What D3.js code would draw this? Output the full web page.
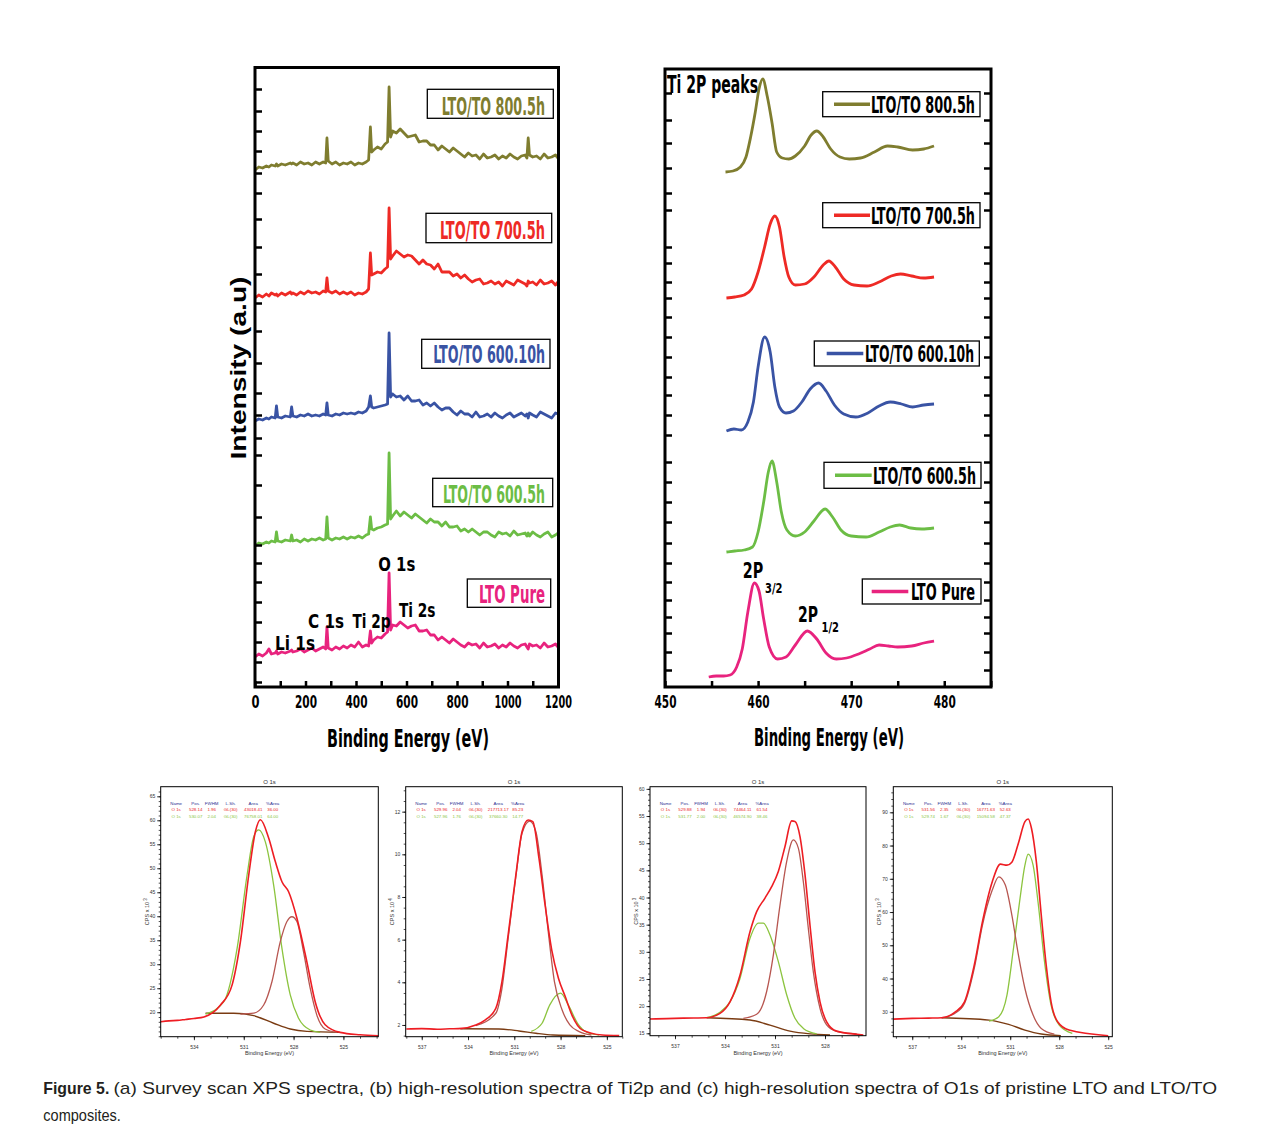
<!DOCTYPE html>
<html><head><meta charset="utf-8">
<script src="https://cdn.jsdelivr.net/npm/d3@7"></script>
<style>body{margin:0;background:#fff}</style>
</head><body>
<svg id="fig" width="1264" height="1134"></svg>
<script>
// ---------------- DATA ----------------
// (a) survey spectra: binding energy grid (eV) and stacked intensities (a.u.)
const surveyEV = [0,15,30,45,55,65,80,85,90,105,
  120,140,145,150,165,180,195,210,225,240,
  255,270,280,285,290,305,320,335,350,365,
  380,395,410,425,440,450,457,462,470,485,
  500,515,525,531,537,545,560,575,590,605,
  620,635,650,665,680,695,710,725,740,755,
  770,785,800,815,830,845,860,875,890,905,
  920,935,950,965,980,995,1010,1025,1040,1055,
  1070,1077,1082,1087,1100,1115,1130,1145,1160,1175,
  1190,1200];
const surveyPure = [30,33,31,34,38,33,34,36,33,35,
  34,36,37,35,36,38,35,37,39,36,
  38,40,38,60,39,37,40,38,41,39,
  42,40,45,40,42,41,56,44,47,50,
  49,53,55,114,57,62,61,65,62,59,
  61,62,56,56,57,52,52,47,50,47,
  44,48,45,42,40,44,42,43,39,44,
  40,41,43,39,42,40,44,41,39,42,
  43,40,38,43,41,42,39,44,40,41,
  43,40];
const survey600_5 = [141,144,143,145,144,146,145,155,146,145,
  147,146,152,146,147,145,148,146,148,147,
  149,147,148,170,149,147,149,148,150,148,
  150,149,151,149,152,153,170,158,157,159,
  160,162,163,234,168,171,176,171,175,172,
  169,173,170,167,164,168,165,165,161,165,
  160,160,161,156,158,155,158,155,152,155,
  155,152,150,155,153,154,151,156,152,153,
  154,151,154,151,155,152,150,153,155,150,
  152,154];
const survey600_10 = [266,268,267,269,268,270,269,281,270,269,
  271,270,280,271,270,272,271,273,271,272,
  271,273,272,284,272,271,273,272,274,273,
  274,273,275,274,276,280,291,280,279,280,
  281,282,283,354,290,293,290,291,287,291,
  286,286,287,282,284,281,284,280,277,279,
  279,275,272,276,273,273,270,275,270,271,
  273,270,274,271,269,272,274,270,272,274,
  271,273,269,274,272,270,275,273,271,269,
  274,273];
const survey700_5 = [389,392,390,393,391,394,392,393,391,394,
  392,395,393,394,392,395,393,396,394,395,
  393,396,395,409,396,394,396,393,395,393,
  395,392,394,393,395,398,434,412,413,415,
  414,418,420,479,428,431,436,433,430,432,
  431,427,423,427,423,422,418,423,415,415,
  415,411,413,409,412,408,405,407,408,403,
  404,406,403,405,401,406,404,402,407,405,
  403,401,406,404,405,402,407,403,404,406,
  402,405];
const survey800_5 = [517,520,519,521,520,522,521,523,521,523,
  522,524,523,524,522,525,523,524,522,525,
  523,525,524,549,526,523,525,522,524,523,
  525,522,524,523,525,527,560,535,537,540,
  538,543,545,600,550,556,554,558,554,550,
  551,552,545,546,546,542,542,537,541,538,
  535,539,536,533,530,534,531,532,528,533,
  529,530,532,528,531,529,533,530,528,531,
  532,529,549,532,530,531,528,533,529,530,
  532,529];
const seriesLabels = ["LTO/TO 800.5h","LTO/TO 700.5h","LTO/TO 600.10h","LTO/TO 600.5h","LTO Pure"];
const surveyTicks = [0,200,400,600,800,1000,1200];
const surveyYTicks = [598,576,556,536,514,494,468,440,413,384,356,324,294,272,249,232,202,170,142,124,105,85,65,45,25,5];
const surveyPeakLabels = ["O 1s","C 1s","Ti 2p","Ti 2s","Li 1s"];

// (b) Ti 2p high-resolution spectra: [eV, stacked intensity]
const ti2p800_5 = [[456.5,515],[457.3,516],[458.1,520],[458.7,530],[459.2,550],[459.7,575],[460.1,598],[460.5,608],[461,590],[461.5,564],[462,535],[462.6,529],[463.3,528],[464,531],[465,541],[465.7,552],[466.3,556],[467,550],[467.8,538],[468.8,530],[469.8,528],[471,529],[472.5,535],[473.9,541],[475,540],[476.6,537],[477.8,538],[478.9,541]];
const ti2p700_5 = [[456.6,389],[457.5,390],[458.5,392],[459.3,398],[460,415],[460.7,440],[461.3,463],[461.8,471],[462.3,460],[462.8,430],[463.3,410],[464,402],[465,403],[466,410],[467,422],[467.6,426],[468.3,420],[469.2,408],[470.3,402],[471.7,401],[473,405],[474.3,411],[475.3,413],[476.5,411],[477.8,409],[478.9,410]];
const ti2p600_10 = [[456.6,256],[457.4,258],[458.2,257],[458.9,265],[459.5,285],[460,320],[460.7,350],[461.3,335],[461.8,300],[462.3,280],[463,274],[463.8,276],[464.7,285],[465.6,298],[466.5,304],[467.3,296],[468.2,282],[469.2,273],[470.5,270],[471.8,274],[473,281],[474.2,285],[475.4,283],[476.6,280],[477.8,282],[478.9,283]];
const ti2p600_5 = [[456.6,135],[457.5,136],[458.5,137],[459.4,140],[460,155],[460.6,185],[461.1,215],[461.5,226],[462,205],[462.5,175],[463.1,157],[464,151],[465,155],[466,166],[467.2,178],[468,170],[468.9,157],[470,151],[471.6,150],[473,155],[474.2,160],[475.2,162],[476.4,159],[477.6,158],[478.9,159]];
const ti2pPure = [[454.7,10],[455.5,11],[456.3,11],[457,12],[457.7,20],[458.3,38],[458.9,75],[459.6,104],[460.1,96],[460.6,68],[461.2,40],[462.1,28],[463,30],[464,42],[465.3,56],[466.3,48],[467.3,34],[468.4,28],[469.5,29],[470.8,33],[472,38],[473,42],[474,41],[475,40],[476.5,41],[477.8,44],[478.9,46]];
const ti2pTicks = [450,460,470,480];
const ti2pYTicks = [594,567,544,519,494,477,440,424,405,389,370,350,330,310,292,272,252,225,205,185,165,144,124,105,87,70,54,35,17];

// (c) O 1s fits: [eV, CPS]
const o1sA_env = [[536,18.0],[535.5,18.2],[535,18.3],[534.5,18.5],[534,18.7],[533.4,19.0],[532.4,21.5],[531.7,25.7],[531.2,34.7],[530.7,48.6],[530.3,57.6],[530,60.1],[529.5,56.3],[529.1,51.4],[528.7,47.2],[528.3,45.1],[527.8,39.6],[527.2,30.5],[526.7,22.2],[526.1,17.4],[525.2,15.8],[524,15.3],[522.9,15.1]];
const o1sA_c1 = [[531.2,19.6],[530.4,19.8],[529.8,21.5],[529.3,26.4],[528.8,34.7],[528.4,38.9],[528.1,39.9],[527.8,38.9],[527.4,32.6],[527,25],[526.6,19.4],[526.1,16.5],[525.4,15.8]];
const o1sA_c2 = [[533.3,19.6],[532.2,22.2],[531.4,33.3],[530.8,48.6],[530.4,56.6],[530.1,58.0],[529.7,55.5],[529.2,46.5],[528.7,33.3],[528.2,23.6],[527.7,18.75],[527,16.3],[526.4,15.8]];
const o1sA_bg = [[533.3,19.8],[531.6,19.8],[530.4,19.3],[529.2,17.7],[528.2,16.5],[527.2,16.0],[525.2,15.8]];

const o1sB_env = [[538,1.81],[537,1.83],[536,1.80],[535.2,1.82],[534.4,1.84],[533.5,2.0],[532.9,2.23],[532.2,2.78],[531.8,4.03],[531.4,6.22],[530.9,9.03],[530.5,11.06],[530.1,11.61],[529.8,11.53],[529.4,9.81],[529,7.6],[528.57,5.5],[528.14,4.19],[527.7,3.33],[527.27,2.47],[526.6,1.77],[525.3,1.53],[524.2,1.5]];
const o1sB_c1 = [[533.5,1.97],[532.2,2.55],[531.8,3.72],[531.4,6.06],[530.9,8.95],[530.5,10.99],[530,11.56],[529.6,11.06],[529.2,9.03],[528.8,6.37],[528.4,4.03],[527.9,2.70],[527.4,2.0],[526.8,1.69],[526,1.53]];
const o1sB_c2 = [[529.9,1.70],[529.2,2.08],[528.7,2.94],[528,3.49],[527.5,2.94],[526.9,2.08],[526.3,1.66],[525.5,1.53]];
const o1sB_bg = [[534.5,1.82],[532,1.81],[530.7,1.72],[529.6,1.61],[528.5,1.53],[526.4,1.5]];

const o1sC_env = [[538.5,17.63],[537.5,17.7],[536.5,17.8],[535.1,17.87],[534.3,18.68],[533.7,20.8],[533.1,25.7],[532.5,33.7],[532.1,37.4],[531.6,39.9],[531.2,42.0],[530.8,44.8],[530.4,49.4],[530,54.1],[529.8,54.0],[529.5,51.2],[529.2,44.2],[528.9,34.9],[528.6,26.3],[528.3,20.8],[527.9,17.1],[527.3,15.4],[525.7,14.7]];
const o1sC_c1 = [[532.9,17.76],[532.1,18.5],[531.5,22.7],[531.1,29.4],[530.7,38.6],[530.3,46.6],[529.9,50.6],[529.6,49.1],[529.3,42.9],[529,34.3],[528.7,26.3],[528.3,19.6],[527.8,16.2],[527.1,15.2],[526.1,14.9]];
const o1sC_c2 = [[535.1,17.87],[534.3,18.87],[533.7,20.8],[533.1,25.1],[532.5,32.5],[532,35.3],[531.7,35.3],[531.3,33.1],[530.8,28.2],[530.3,22.1],[529.8,17.76],[529.3,15.9],[528.5,14.9]];
const o1sC_bg = [[535.1,17.87],[532.5,17.45],[531.3,16.5],[530.1,15.4],[528.9,14.9],[527.7,14.7]];

const o1sD_env = [[538.16,27.8],[537,28.0],[536,28.1],[535.2,28.2],[534.4,29.8],[533.8,33.0],[533.2,44.1],[532.7,57.1],[532.1,69.1],[531.6,74.4],[531.2,74.1],[530.9,75.0],[530.5,80.7],[530.1,87.2],[529.9,88.0],[529.7,85.2],[529.4,75.1],[529.1,59.1],[528.8,44.1],[528.5,33.0],[528.1,27.0],[527.4,24.5],[525,22.8]];
const o1sD_c1 = [[535.2,28.2],[534.4,29.5],[533.8,32.5],[533.2,43.1],[532.7,56.1],[532.1,66.6],[531.7,70.6],[531.3,68.1],[530.9,59.1],[530.5,47.1],[530.1,37.0],[529.6,29.0],[529.1,25.0],[528.3,23.3]];
const o1sD_c2 = [[532.3,27.2],[531.7,28.5],[531.2,35.0],[530.8,49.1],[530.4,64.1],[530.1,74.1],[529.9,77.4],[529.6,74.1],[529.3,63.1],[528.9,45.0],[528.5,32.0],[528,26.0],[527.2,23.5]];
const o1sD_bg = [[535.2,28.2],[532.3,27.5],[531.1,26.2],[530.1,24.5],[529.1,23.3],[527.9,22.8]];

const o1sXTicksA = [534,531,528,525];
const o1sXTicksB = [537,534,531,528,525];
const o1sXTicksC = [537,534,531,528];
const o1sXTicksD = [537,534,531,528,525];
const o1sYTicksA = [20,25,30,35,40,45,50,55,60,65];
const o1sYTicksB = [2,4,6,8,10,12];
const o1sYTicksC = [15,20,25,30,35,40,45,50,55,60];
const o1sYTicksD = [30,40,50,60,70,80,90];
const tableHeader = ["Name","Pos.","FWHM","L.Sh.","Area","%Area"];
const tableA = [["O 1s","528.14","1.96","GL(30)","43018.41","36.00"],["O 1s","530.07","2.04","GL(30)","76758.01","64.00"]];
const tableB = [["O 1s","529.96","2.04","GL(30)","217713.17","85.23"],["O 1s","527.96","1.76","GL(30)","37660.30","14.77"]];
const tableC = [["O 1s","529.88","1.94","GL(30)","74464.11","61.54"],["O 1s","531.77","2.00","GL(30)","46574.90","38.46"]];
const tableD = [["O 1s","531.56","2.35","GL(30)","16771.63","52.63"],["O 1s","529.74","1.67","GL(30)","15094.58","47.37"]];

// ---------------- DRAWING ----------------
const svg = d3.select("#fig");
svg.append("rect").attr("width",1264).attr("height",1134).attr("fill","#fff");
const NARROW = "'Liberation Sans Narrow','Arial Narrow','DejaVu Sans Condensed',sans-serif";
const SANS = "'Liberation Sans',Arial,sans-serif";
const seriesColors = ["#7f7d2f","#ee2a25","#3953a4","#6cbd45","#e8237e"];

function label(parent, x, y, s, o = {}) {
  const t = parent.append("text").attr("x", x).attr("y", y)
    .attr("font-family", o.family || NARROW).attr("font-size", o.size || 20)
    .attr("font-weight", o.weight || "normal").attr("fill", o.fill || "#000")
    .attr("text-anchor", o.anchor || "start").text(s);
  if (o.len) t.attr("textLength", o.len).attr("lengthAdjust", "spacingAndGlyphs");
  return t;
}
function tickLen(s){ return s.length === 1 ? 8 : s.length === 3 ? 22 : 27; }

// ---- Panel (a) ----
const ax = d3.scaleLinear().domain([0,1200]).range([255,558]);
const ay = d3.scaleLinear().domain([0,620]).range([687,67]);
const gA = svg.append("g");
const surveyVals = [survey800_5, survey700_5, survey600_10, survey600_5, surveyPure];
const lineA = d3.line().x((d,j)=>ax(surveyEV[j])).y(d=>ay(d));
surveyVals.forEach((vals,i)=>{
  gA.append("path").attr("d", lineA(vals)).attr("fill","none")
    .attr("stroke", seriesColors[i]).attr("stroke-width", 2.8).attr("stroke-linejoin","round");
});
gA.append("rect").attr("x",255).attr("y",67.5).attr("width",303.5).attr("height",619.5)
  .attr("fill","none").attr("stroke","#000").attr("stroke-width",3);
gA.append("g").attr("transform","translate(0,687)")
  .call(d3.axisBottom(ax).tickValues(d3.range(0,1201,100)).tickSize(-6).tickFormat(""))
  .call(g=>g.select(".domain").remove())
  .call(g=>g.selectAll("line").attr("stroke-width",2.5));
gA.append("g").attr("transform","translate(0,687)")
  .call(d3.axisBottom(ax).tickValues(surveyTicks).tickSize(0).tickPadding(8).tickFormat(d3.format("d")))
  .call(g=>g.select(".domain").remove())
  .call(g=>g.selectAll("text").attr("font-family",NARROW).attr("font-size",18).attr("font-weight","bold")
    .attr("fill","#000").each(function(d){ d3.select(this).attr("textLength", tickLen(String(d))).attr("lengthAdjust","spacingAndGlyphs"); }));
gA.append("g").attr("transform","translate(255,0)")
  .call(d3.axisRight(ay).tickValues(surveyYTicks).tickSize(7).tickFormat(""))
  .call(g=>g.select(".domain").remove())
  .call(g=>g.selectAll("line").attr("stroke-width",2.5));
// legend boxes (a)
const legA = [
  {bx:427.3, by:89.3, bw:126, bh:29, tx:441.7, ty:114.5, tl:103.3},
  {bx:426, by:213.3, bw:125.7, bh:29.4, tx:440, ty:238.5, tl:105},
  {bx:421.7, by:339.3, bw:128.3, bh:29, tx:433.3, ty:363, tl:111.7},
  {bx:432.7, by:478.3, bw:120, bh:28.4, tx:443, ty:502.5, tl:102},
  {bx:467.3, by:579, bw:83.4, bh:28.3, tx:479, ty:603, tl:66}
];
legA.forEach((l,i)=>{
  gA.append("rect").attr("x",l.bx).attr("y",l.by).attr("width",l.bw).attr("height",l.bh)
    .attr("fill","#fff").attr("stroke","#000").attr("stroke-width",1.3);
  label(gA, l.tx, l.ty, seriesLabels[i], {size:24, weight:"bold", fill:seriesColors[i], len:l.tl});
});
// peak labels (a)
const peakPosA = [{x:378.3,y:571,l:37},{x:308,y:628,l:36},{x:352.5,y:628,l:38},{x:399,y:617,l:36.5},{x:275,y:650,l:40}];
surveyPeakLabels.forEach((s,i)=>label(gA, peakPosA[i].x, peakPosA[i].y, s, {size:20, weight:"bold", len:peakPosA[i].l}));
label(gA, 408, 747, "Binding Energy (eV)", {size:25, weight:"bold", anchor:"middle", len:162});
gA.append("text").attr("transform","translate(246,368) rotate(-90)").attr("text-anchor","middle")
  .attr("font-family",SANS).attr("font-weight","bold").attr("font-size",22)
  .attr("textLength",183).attr("lengthAdjust","spacingAndGlyphs").text("Intensity (a.u)");

// ---- Panel (b) ----
const bx = d3.scaleLinear().domain([450,485]).range([665,990.8]);
const by = d3.scaleLinear().domain([0,618]).range([687,69]);
const gB = svg.append("g");
const ti2pVals = [ti2p800_5, ti2p700_5, ti2p600_10, ti2p600_5, ti2pPure];
const lineB = d3.line().x(d=>bx(d[0])).y(d=>by(d[1])).curve(d3.curveMonotoneX);
ti2pVals.forEach((vals,i)=>{
  gB.append("path").attr("d", lineB(vals)).attr("fill","none")
    .attr("stroke", seriesColors[i]).attr("stroke-width", 2.8).attr("stroke-linejoin","round");
});
gB.append("rect").attr("x",665).attr("y",69).attr("width",326).attr("height",618)
  .attr("fill","none").attr("stroke","#000").attr("stroke-width",3);
gB.append("g").attr("transform","translate(0,687)")
  .call(d3.axisBottom(bx).tickValues(d3.range(450,486,5)).tickSize(-6).tickFormat(""))
  .call(g=>g.select(".domain").remove())
  .call(g=>g.selectAll("line").attr("stroke-width",2.5));
gB.append("g").attr("transform","translate(0,687)")
  .call(d3.axisBottom(bx).tickValues(ti2pTicks).tickSize(0).tickPadding(8).tickFormat(d3.format("d")))
  .call(g=>g.select(".domain").remove())
  .call(g=>g.selectAll("text").attr("font-family",NARROW).attr("font-size",18).attr("font-weight","bold")
    .attr("fill","#000").attr("textLength",22).attr("lengthAdjust","spacingAndGlyphs"));
gB.append("g").attr("transform","translate(665,0)")
  .call(d3.axisRight(by).tickValues(ti2pYTicks).tickSize(7).tickFormat(""))
  .call(g=>g.select(".domain").remove())
  .call(g=>g.selectAll("line").attr("stroke-width",2.5));
gB.append("g").attr("transform","translate(991,0)")
  .call(d3.axisLeft(by).tickValues(ti2pYTicks).tickSize(7).tickFormat(""))
  .call(g=>g.select(".domain").remove())
  .call(g=>g.selectAll("line").attr("stroke-width",2.5));
const legB = [
  {bx:822.7, by:91.7, bw:157.3, bh:25, l0:834, l1:870, tx:871, ty:113, tl:104},
  {bx:822.7, by:202.7, bw:157.3, bh:25, l0:834, l1:870, tx:871, ty:224, tl:104},
  {bx:814.3, by:341, bw:165, bh:25, l0:826.7, l1:863.3, tx:865, ty:362, tl:109},
  {bx:824, by:462.3, bw:157, bh:26, l0:835, l1:871.7, tx:873, ty:484, tl:103},
  {bx:862.3, by:579, bw:118.7, bh:25, l0:871.7, l1:908.3, tx:911, ty:600, tl:64}
];
legB.forEach((l,i)=>{
  gB.append("rect").attr("x",l.bx).attr("y",l.by).attr("width",l.bw).attr("height",l.bh)
    .attr("fill","#fff").attr("stroke","#000").attr("stroke-width",1.3);
  gB.append("line").attr("x1",l.l0).attr("x2",l.l1).attr("y1",l.by+l.bh/2).attr("y2",l.by+l.bh/2)
    .attr("stroke",seriesColors[i]).attr("stroke-width",3.5);
  label(gB, l.tx, l.ty, seriesLabels[i], {size:23, weight:"bold", len:l.tl});
});
label(gB, 667, 93, "Ti 2P peaks", {size:24, weight:"bold", len:91});
label(gB, 742.7, 578, "2P", {size:21, weight:"bold", len:20.5});
label(gB, 765, 593, "3/2", {size:14, weight:"bold", len:17.5});
label(gB, 798, 622, "2P", {size:21, weight:"bold", len:20});
label(gB, 821.5, 632, "1/2", {size:14, weight:"bold", len:17.5});
label(gB, 829, 746, "Binding Energy (eV)", {size:25, weight:"bold", anchor:"middle", len:150});

// ---- Panels (c) ----
const o1sPanels = [
  {x0:160.7, x1:378.3, y0:786.7, y1:1036.7, xd:[536,522.9], yd:[14.9,67], xt:o1sXTicksA, yt:o1sYTicksA, ym:1, exp:"3",
   env:o1sA_env, c1:o1sA_c1, c2:o1sA_c2, bg:o1sA_bg, tab:tableA},
  {x0:405.7, x1:622.3, y0:786.7, y1:1036.7, xd:[538.04,524], yd:[1.45,13.17], xt:o1sXTicksB, yt:o1sYTicksB, ym:0.5, exp:"4",
   env:o1sB_env, c1:o1sB_c1, c2:o1sB_c2, bg:o1sB_bg, tab:tableB},
  {x0:650, x1:866, y0:786.7, y1:1035.7, xd:[538.5,525.54], yd:[14.56,60.4], xt:o1sXTicksC, yt:o1sYTicksC, ym:1, exp:"3",
   env:o1sC_env, c1:o1sC_c1, c2:o1sC_c2, bg:o1sC_bg, tab:tableC},
  {x0:893.3, x1:1112.3, y0:786.7, y1:1036.7, xd:[538.16,524.75], yd:[22.5,97.7], xt:o1sXTicksD, yt:o1sYTicksD, ym:2, exp:"3",
   env:o1sD_env, c1:o1sD_c1, c2:o1sD_c2, bg:o1sD_bg, tab:tableD}
];
const colCenters = [15.5,35,51,70,92.5,112];
o1sPanels.forEach(p=>{
  const x = d3.scaleLinear().domain(p.xd).range([p.x0,p.x1]);
  const y = d3.scaleLinear().domain(p.yd).range([p.y1,p.y0]);
  const g = svg.append("g");
  const ln = d3.line().x(d=>x(d[0])).y(d=>y(d[1])).curve(d3.curveMonotoneX);
  const xmin = Math.min(...p.xd), xmax = Math.max(...p.xd);
  g.append("g").attr("transform",`translate(0,${p.y1})`)
    .call(d3.axisBottom(x).tickValues(d3.range(Math.ceil(xmin), Math.floor(xmax)+1)).tickSize(2).tickFormat(""))
    .call(a=>a.select(".domain").remove()).call(a=>a.selectAll("line").attr("stroke-width",0.7));
  g.append("g").attr("transform",`translate(0,${p.y1})`)
    .call(d3.axisBottom(x).tickValues(p.xt).tickSize(3.5).tickPadding(5).tickFormat(d3.format("d")))
    .call(a=>a.select(".domain").remove())
    .call(a=>a.selectAll("line").attr("stroke-width",0.8))
    .call(a=>a.selectAll("text").attr("font-size",5).attr("font-family",SANS).attr("fill","#333"));
  const ymin = Math.min(...p.yd), ymax = Math.max(...p.yd);
  g.append("g").attr("transform",`translate(${p.x0},0)`)
    .call(d3.axisLeft(y).tickValues(d3.range(Math.ceil(ymin/p.ym)*p.ym, ymax, p.ym)).tickSize(2).tickFormat(""))
    .call(a=>a.select(".domain").remove()).call(a=>a.selectAll("line").attr("stroke-width",0.7));
  g.append("g").attr("transform",`translate(${p.x0},0)`)
    .call(d3.axisLeft(y).tickValues(p.yt).tickSize(3.5).tickPadding(2).tickFormat(d3.format("d")))
    .call(a=>a.select(".domain").remove())
    .call(a=>a.selectAll("line").attr("stroke-width",0.8))
    .call(a=>a.selectAll("text").attr("font-size",5).attr("font-family",SANS).attr("fill","#333"));
  g.append("path").attr("d", ln(p.bg)).attr("fill","none").attr("stroke","#7a3b12").attr("stroke-width",1.4);
  g.append("path").attr("d", ln(p.c2)).attr("fill","none").attr("stroke","#8cc43f").attr("stroke-width",1.3);
  g.append("path").attr("d", ln(p.c1)).attr("fill","none").attr("stroke","#b75650").attr("stroke-width",1.3);
  g.append("path").attr("d", ln(p.env)).attr("fill","none").attr("stroke","#ee1d23").attr("stroke-width",1.6);
  g.append("rect").attr("x",p.x0).attr("y",p.y0).attr("width",p.x1-p.x0).attr("height",p.y1-p.y0)
    .attr("fill","none").attr("stroke","#000").attr("stroke-width",1);
  const cx = (p.x0+p.x1)/2;
  label(g, cx, p.y0-2.5, "O 1s", {family:SANS, size:6, anchor:"middle", fill:"#333"});
  label(g, cx, 1055, "Binding Energy (eV)", {family:SANS, size:5.5, anchor:"middle", fill:"#333"});
  const yl = g.append("text").attr("transform",`translate(${p.x0-12},${(p.y0+p.y1)/2}) rotate(-90)`)
    .attr("text-anchor","middle").attr("font-family",SANS).attr("font-size",5.5).attr("fill","#333");
  yl.append("tspan").text("CPS x 10");
  yl.append("tspan").attr("dy",-2).attr("font-size",4.5).text(" " + p.exp);
  tableHeader.forEach((h,k)=>label(g, p.x0+colCenters[k], p.y0+18.3, h, {family:SANS, size:4.4, anchor:"middle", fill:"#2e3192"}));
  p.tab.forEach((row,r)=>row.forEach((c,k)=>label(g, p.x0+colCenters[k], p.y0+24.5+r*7.2, c,
    {family:SANS, size:4.4, anchor:"middle", fill: r===0 ? "#ed1c24" : "#8cc63f"})));
});

// ---- Caption ----
label(svg, 43.3, 1094, "Figure 5.", {family:SANS, size:17, weight:"bold", fill:"#231f20", len:66});
label(svg, 113.5, 1094, "(a) Survey scan XPS spectra, (b) high-resolution spectra of Ti2p and (c) high-resolution spectra of O1s of pristine LTO and LTO/TO",
  {family:SANS, size:17, fill:"#231f20", len:1103.5});
label(svg, 43.3, 1121, "composites.", {family:SANS, size:17, fill:"#231f20", len:77.5});
</script>
</body></html>
